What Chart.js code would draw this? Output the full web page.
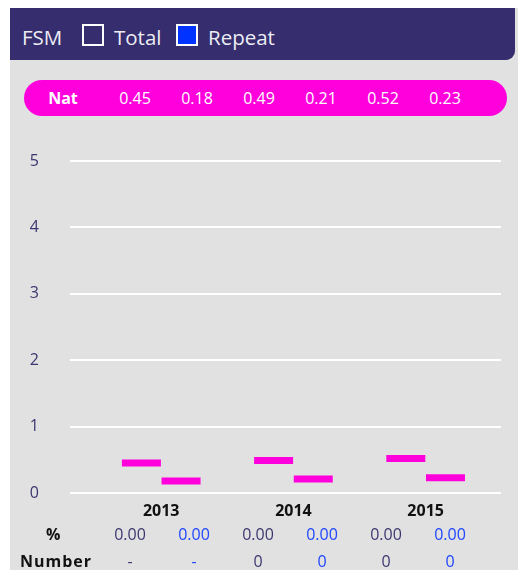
<!DOCTYPE html>
<html>
<head>
<meta charset="utf-8">
<script src="https://cdn.jsdelivr.net/npm/chart.js@4"></script>
<style>
  body { margin: 0; background: #fff; font-family: "Open Sans", sans-serif; }
  #panel { position: absolute; left: 10px; top: 8px; width: 508px; height: 562px; background: #e1e1e1; overflow: hidden; }
  #header { position: absolute; left: 0; top: 0; width: 505px; height: 52px; background: #352d6d; border-bottom-right-radius: 9px; color: #ececf4; font-size: 20.5px; }
  #header span { position: absolute; top: 16px; line-height: 26px; }
  .box { position: absolute; top: 16px; width: 18px; height: 18px; border: 2px solid #fff; }
  #pill { position: absolute; left: 14px; top: 72px; width: 483px; height: 36px; border-radius: 18px; background: #ff00dd; color: #fff; font-size: 16px; }
  #pill span, .cell { position: absolute; transform: translateX(-50%); white-space: nowrap; }
  #pill span { top: 7px; line-height: 22px; }
  #chart-wrap { position: absolute; left: 0; top: 112px; width: 508px; height: 413px; }
  .lbl { position: absolute; font-weight: bold; color: #111; font-size: 16px; line-height: 20px; }
  .cell { font-size: 16px; line-height: 20px; }
</style>
</head>
<body>
<div id="panel">
  <div id="header">
    <span style="left:12px">FSM</span>
    <div class="box" style="left:72px;background:transparent"></div>
    <span style="left:104px">Total</span>
    <div class="box" style="left:166px;background:#0033ff"></div>
    <span style="left:198px">Repeat</span>
  </div>
  <div id="pill"></div>
  <div id="chart-wrap"><canvas id="fsmChart" width="508" height="413"></canvas></div>
  <div class="lbl" style="left:36px;top:516px">%</div>
  <div class="lbl" style="left:10px;top:543px;letter-spacing:1px">Number</div>
  <div id="table"></div>
</div>
<script>
// Chart data
const years = ['2013', '2014', '2015'];
const natTotal = [0.45, 0.49, 0.52];
const natRepeat = [0.18, 0.21, 0.23];
const pctTotal = ['0.00', '0.00', '0.00'];
const pctRepeat = ['0.00', '0.00', '0.00'];
const numTotal = ['-', '0', '0'];
const numRepeat = ['-', '0', '0'];
const yTicks = [0, 1, 2, 3, 4, 5];

const pink = '#ff00dd';
const dodge = 0.15; // half-group offset on x axis

// National averages strip
const pill = document.getElementById('pill');
let html = '<span style="left:39px;font-weight:bold">Nat</span>';
years.forEach(function(y, i) {
    html += `<span style="left:${111 + i * 124}px">${natTotal[i].toFixed(2)}</span>`;
    html += `<span style="left:${173 + i * 124}px">${natRepeat[i].toFixed(2)}</span>`;
});
pill.innerHTML = html;

// Bottom table
const table = document.getElementById('table');
let rows = '';
years.forEach(function(y, i) {
    const x1 = 120 + i * 128, x2 = 184 + i * 128;
    rows += `<div class="cell" style="left:${x1}px;top:516px;color:#3b3770">${pctTotal[i]}</div>`;
    rows += `<div class="cell" style="left:${x2}px;top:516px;color:#1f45ff">${pctRepeat[i]}</div>`;
    rows += `<div class="cell" style="left:${x1}px;top:543px;color:#3b3770">${numTotal[i]}</div>`;
    rows += `<div class="cell" style="left:${x2}px;top:543px;color:#1f45ff">${numRepeat[i]}</div>`;
});
table.innerHTML = rows;

const ctx = document.getElementById('fsmChart').getContext('2d');
new Chart(ctx, {
    type: 'scatter',
    data: {
        datasets: [{
            label: 'Nat Total',
            data: natTotal.map((v, i) => ({ x: i - dodge, y: v }))
        }, {
            label: 'Nat Repeat',
            data: natRepeat.map((v, i) => ({ x: i + dodge, y: v }))
        }]
    },
    options: {
        responsive: false,
        animation: false,
        events: [],
        layout: { autoPadding: false, padding: { top: 41, right: 17, left: 0, bottom: 0 } },
        elements: {
            point: {
                pointStyle: 'line',
                radius: 19.5,
                borderWidth: 7,
                borderColor: pink,
                backgroundColor: pink
            }
        },
        plugins: { legend: { display: false }, tooltip: { enabled: false } },
        scales: {
            x: {
                type: 'linear',
                min: -0.69,
                max: 2.57,
                afterFit: function(scale) {
                    scale.height = 40;
                    scale.paddingLeft = 0;
                    scale.paddingRight = 0;
                },
                grid: { display: false },
                border: { display: false },
                ticks: {
                    stepSize: 1,
                    includeBounds: false,
                    padding: 1,
                    color: '#111',
                    font: { family: 'Open Sans', size: 16, weight: 'bold' },
                    callback: function(v) { return years[v] !== undefined ? years[v] : ''; }
                }
            },
            y: {
                min: yTicks[0],
                max: yTicks[yTicks.length - 1],
                afterFit: function(scale) {
                    scale.width = 60;
                    scale.paddingTop = 0;
                    scale.paddingBottom = 0;
                },
                grid: { color: '#ffffff', lineWidth: 2, drawTicks: false },
                border: { display: false },
                ticks: {
                    stepSize: 1,
                    padding: 31,
                    color: '#3b3770',
                    font: { family: 'Open Sans', size: 16 }
                }
            }
        }
    }
});
</script>
</body>
</html>
